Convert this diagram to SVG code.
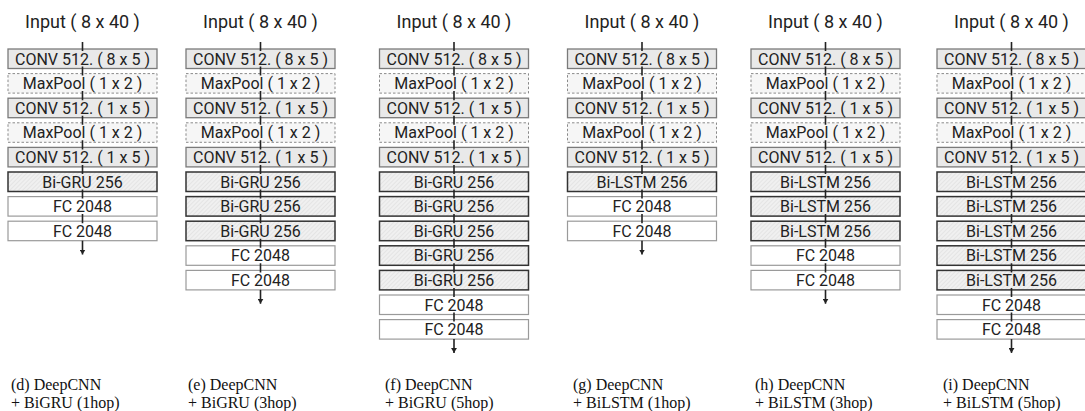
<svg xmlns="http://www.w3.org/2000/svg" width="1085" height="411" viewBox="0 0 1085 411">
<style>
.bg{fill:#ffffff}
.title{font-family:Roboto,"Noto Sans",sans-serif;font-size:18px;fill:#222;text-anchor:middle}
.t{font-family:Roboto,"Noto Sans",sans-serif;font-size:16px;fill:#222;text-anchor:middle}
.cap{font-family:"Liberation Serif","Times New Roman",serif;font-size:16px;fill:#111}
.conv{fill:#e9e9e9;stroke:#7a7a7a;stroke-width:1.3}
.pool{fill:#f6f6f6;stroke:#8a8a8a;stroke-width:1;stroke-dasharray:2.5 2}
.rnn{fill:url(#hatch);stroke:#333;stroke-width:1.5}
.fc{fill:#ffffff;stroke:#9a9a9a;stroke-width:1.2}
.con{fill:none;stroke:#222;stroke-width:1.6}
</style>
<defs>
<pattern id="hatch" width="3" height="3" patternUnits="userSpaceOnUse" patternTransform="rotate(45)">
<rect width="3" height="3" fill="#f0f0f0"/>
<line x1="0" y1="0" x2="0" y2="3" stroke="#d8d8d8" stroke-width="1"/>
</pattern>
<marker id="arr" markerUnits="userSpaceOnUse" markerWidth="6" markerHeight="6" refX="5" refY="3" orient="auto">
<path d="M0,0 L5,3 L0,6 z" fill="#222"/>
</marker>
</defs>
<rect class="bg" x="0" y="0" width="1085" height="411"/>

<!-- Column d -->
<g id="col-d">
<text class="title" x="82.5" y="28">Input ( 8 x 40 )</text>
<g id="d-conv1"><rect class="conv" x="8" y="49" width="149" height="19.5"/><text class="t" x="82.5" y="64.5">CONV 512. ( 8 x 5 )</text></g>
<g id="d-pool1"><rect class="pool" x="8" y="73.6" width="149" height="19.5"/><text class="t" x="82.5" y="89.1">MaxPool ( 1 x 2 )</text></g>
<g id="d-conv2"><rect class="conv" x="8" y="98.2" width="149" height="19.5"/><text class="t" x="82.5" y="113.7">CONV 512. ( 1 x 5 )</text></g>
<g id="d-pool2"><rect class="pool" x="8" y="122.8" width="149" height="19.5"/><text class="t" x="82.5" y="138.3">MaxPool ( 1 x 2 )</text></g>
<g id="d-conv3"><rect class="conv" x="8" y="147.4" width="149" height="19.5"/><text class="t" x="82.5" y="162.9">CONV 512. ( 1 x 5 )</text></g>
<g id="d-rnn1"><rect class="rnn" x="8" y="172" width="149" height="19.5"/><text class="t" x="82.5" y="187.5">Bi-GRU 256</text></g>
<g id="d-fc1"><rect class="fc" x="8" y="196.6" width="149" height="19.5"/><text class="t" x="82.5" y="212.1">FC 2048</text></g>
<g id="d-fc2"><rect class="fc" x="8" y="221.2" width="149" height="19.5"/><text class="t" x="82.5" y="236.7">FC 2048</text></g>
<text class="cap" x="11" y="390">(d) DeepCNN</text>
<text class="cap" x="11" y="408">+ BiGRU (1hop)</text>
</g>

<!-- Column e -->
<g id="col-e">
<text class="title" x="260.5" y="28">Input ( 8 x 40 )</text>
<g id="e-conv1"><rect class="conv" x="186" y="49" width="149" height="19.5"/><text class="t" x="260.5" y="64.5">CONV 512. ( 8 x 5 )</text></g>
<g id="e-pool1"><rect class="pool" x="186" y="73.6" width="149" height="19.5"/><text class="t" x="260.5" y="89.1">MaxPool ( 1 x 2 )</text></g>
<g id="e-conv2"><rect class="conv" x="186" y="98.2" width="149" height="19.5"/><text class="t" x="260.5" y="113.7">CONV 512. ( 1 x 5 )</text></g>
<g id="e-pool2"><rect class="pool" x="186" y="122.8" width="149" height="19.5"/><text class="t" x="260.5" y="138.3">MaxPool ( 1 x 2 )</text></g>
<g id="e-conv3"><rect class="conv" x="186" y="147.4" width="149" height="19.5"/><text class="t" x="260.5" y="162.9">CONV 512. ( 1 x 5 )</text></g>
<g id="e-rnn1"><rect class="rnn" x="186" y="172" width="149" height="19.5"/><text class="t" x="260.5" y="187.5">Bi-GRU 256</text></g>
<g id="e-rnn2"><rect class="rnn" x="186" y="196.6" width="149" height="19.5"/><text class="t" x="260.5" y="212.1">Bi-GRU 256</text></g>
<g id="e-rnn3"><rect class="rnn" x="186" y="221.2" width="149" height="19.5"/><text class="t" x="260.5" y="236.7">Bi-GRU 256</text></g>
<g id="e-fc1"><rect class="fc" x="186" y="245.8" width="149" height="19.5"/><text class="t" x="260.5" y="261.3">FC 2048</text></g>
<g id="e-fc2"><rect class="fc" x="186" y="270.4" width="149" height="19.5"/><text class="t" x="260.5" y="285.9">FC 2048</text></g>
<text class="cap" x="188" y="390">(e) DeepCNN</text>
<text class="cap" x="188" y="408">+ BiGRU (3hop)</text>
</g>

<!-- Column f -->
<g id="col-f">
<text class="title" x="454" y="28">Input ( 8 x 40 )</text>
<g id="f-conv1"><rect class="conv" x="379.5" y="49" width="149" height="19.5"/><text class="t" x="454" y="64.5">CONV 512. ( 8 x 5 )</text></g>
<g id="f-pool1"><rect class="pool" x="379.5" y="73.6" width="149" height="19.5"/><text class="t" x="454" y="89.1">MaxPool ( 1 x 2 )</text></g>
<g id="f-conv2"><rect class="conv" x="379.5" y="98.2" width="149" height="19.5"/><text class="t" x="454" y="113.7">CONV 512. ( 1 x 5 )</text></g>
<g id="f-pool2"><rect class="pool" x="379.5" y="122.8" width="149" height="19.5"/><text class="t" x="454" y="138.3">MaxPool ( 1 x 2 )</text></g>
<g id="f-conv3"><rect class="conv" x="379.5" y="147.4" width="149" height="19.5"/><text class="t" x="454" y="162.9">CONV 512. ( 1 x 5 )</text></g>
<g id="f-rnn1"><rect class="rnn" x="379.5" y="172" width="149" height="19.5"/><text class="t" x="454" y="187.5">Bi-GRU 256</text></g>
<g id="f-rnn2"><rect class="rnn" x="379.5" y="196.6" width="149" height="19.5"/><text class="t" x="454" y="212.1">Bi-GRU 256</text></g>
<g id="f-rnn3"><rect class="rnn" x="379.5" y="221.2" width="149" height="19.5"/><text class="t" x="454" y="236.7">Bi-GRU 256</text></g>
<g id="f-rnn4"><rect class="rnn" x="379.5" y="245.8" width="149" height="19.5"/><text class="t" x="454" y="261.3">Bi-GRU 256</text></g>
<g id="f-rnn5"><rect class="rnn" x="379.5" y="270.4" width="149" height="19.5"/><text class="t" x="454" y="285.9">Bi-GRU 256</text></g>
<g id="f-fc1"><rect class="fc" x="379.5" y="295" width="149" height="19.5"/><text class="t" x="454" y="310.5">FC 2048</text></g>
<g id="f-fc2"><rect class="fc" x="379.5" y="319.6" width="149" height="19.5"/><text class="t" x="454" y="335.1">FC 2048</text></g>
<text class="cap" x="385" y="390">(f) DeepCNN</text>
<text class="cap" x="385" y="408">+ BiGRU (5hop)</text>
</g>

<!-- Column g -->
<g id="col-g">
<text class="title" x="642" y="28">Input ( 8 x 40 )</text>
<g id="g-conv1"><rect class="conv" x="567.5" y="49" width="149" height="19.5"/><text class="t" x="642" y="64.5">CONV 512. ( 8 x 5 )</text></g>
<g id="g-pool1"><rect class="pool" x="567.5" y="73.6" width="149" height="19.5"/><text class="t" x="642" y="89.1">MaxPool ( 1 x 2 )</text></g>
<g id="g-conv2"><rect class="conv" x="567.5" y="98.2" width="149" height="19.5"/><text class="t" x="642" y="113.7">CONV 512. ( 1 x 5 )</text></g>
<g id="g-pool2"><rect class="pool" x="567.5" y="122.8" width="149" height="19.5"/><text class="t" x="642" y="138.3">MaxPool ( 1 x 2 )</text></g>
<g id="g-conv3"><rect class="conv" x="567.5" y="147.4" width="149" height="19.5"/><text class="t" x="642" y="162.9">CONV 512. ( 1 x 5 )</text></g>
<g id="g-rnn1"><rect class="rnn" x="567.5" y="172" width="149" height="19.5"/><text class="t" x="642" y="187.5">Bi-LSTM 256</text></g>
<g id="g-fc1"><rect class="fc" x="567.5" y="196.6" width="149" height="19.5"/><text class="t" x="642" y="212.1">FC 2048</text></g>
<g id="g-fc2"><rect class="fc" x="567.5" y="221.2" width="149" height="19.5"/><text class="t" x="642" y="236.7">FC 2048</text></g>
<text class="cap" x="573" y="390">(g) DeepCNN</text>
<text class="cap" x="573" y="408">+ BiLSTM (1hop)</text>
</g>

<!-- Column h -->
<g id="col-h">
<text class="title" x="825.5" y="28">Input ( 8 x 40 )</text>
<g id="h-conv1"><rect class="conv" x="751" y="49" width="149" height="19.5"/><text class="t" x="825.5" y="64.5">CONV 512. ( 8 x 5 )</text></g>
<g id="h-pool1"><rect class="pool" x="751" y="73.6" width="149" height="19.5"/><text class="t" x="825.5" y="89.1">MaxPool ( 1 x 2 )</text></g>
<g id="h-conv2"><rect class="conv" x="751" y="98.2" width="149" height="19.5"/><text class="t" x="825.5" y="113.7">CONV 512. ( 1 x 5 )</text></g>
<g id="h-pool2"><rect class="pool" x="751" y="122.8" width="149" height="19.5"/><text class="t" x="825.5" y="138.3">MaxPool ( 1 x 2 )</text></g>
<g id="h-conv3"><rect class="conv" x="751" y="147.4" width="149" height="19.5"/><text class="t" x="825.5" y="162.9">CONV 512. ( 1 x 5 )</text></g>
<g id="h-rnn1"><rect class="rnn" x="751" y="172" width="149" height="19.5"/><text class="t" x="825.5" y="187.5">Bi-LSTM 256</text></g>
<g id="h-rnn2"><rect class="rnn" x="751" y="196.6" width="149" height="19.5"/><text class="t" x="825.5" y="212.1">Bi-LSTM 256</text></g>
<g id="h-rnn3"><rect class="rnn" x="751" y="221.2" width="149" height="19.5"/><text class="t" x="825.5" y="236.7">Bi-LSTM 256</text></g>
<g id="h-fc1"><rect class="fc" x="751" y="245.8" width="149" height="19.5"/><text class="t" x="825.5" y="261.3">FC 2048</text></g>
<g id="h-fc2"><rect class="fc" x="751" y="270.4" width="149" height="19.5"/><text class="t" x="825.5" y="285.9">FC 2048</text></g>
<text class="cap" x="755" y="390">(h) DeepCNN</text>
<text class="cap" x="755" y="408">+ BiLSTM (3hop)</text>
</g>

<!-- Column i -->
<g id="col-i">
<text class="title" x="1011.5" y="28">Input ( 8 x 40 )</text>
<g id="i-conv1"><rect class="conv" x="937" y="49" width="149" height="19.5"/><text class="t" x="1011.5" y="64.5">CONV 512. ( 8 x 5 )</text></g>
<g id="i-pool1"><rect class="pool" x="937" y="73.6" width="149" height="19.5"/><text class="t" x="1011.5" y="89.1">MaxPool ( 1 x 2 )</text></g>
<g id="i-conv2"><rect class="conv" x="937" y="98.2" width="149" height="19.5"/><text class="t" x="1011.5" y="113.7">CONV 512. ( 1 x 5 )</text></g>
<g id="i-pool2"><rect class="pool" x="937" y="122.8" width="149" height="19.5"/><text class="t" x="1011.5" y="138.3">MaxPool ( 1 x 2 )</text></g>
<g id="i-conv3"><rect class="conv" x="937" y="147.4" width="149" height="19.5"/><text class="t" x="1011.5" y="162.9">CONV 512. ( 1 x 5 )</text></g>
<g id="i-rnn1"><rect class="rnn" x="937" y="172" width="149" height="19.5"/><text class="t" x="1011.5" y="187.5">Bi-LSTM 256</text></g>
<g id="i-rnn2"><rect class="rnn" x="937" y="196.6" width="149" height="19.5"/><text class="t" x="1011.5" y="212.1">Bi-LSTM 256</text></g>
<g id="i-rnn3"><rect class="rnn" x="937" y="221.2" width="149" height="19.5"/><text class="t" x="1011.5" y="236.7">Bi-LSTM 256</text></g>
<g id="i-rnn4"><rect class="rnn" x="937" y="245.8" width="149" height="19.5"/><text class="t" x="1011.5" y="261.3">Bi-LSTM 256</text></g>
<g id="i-rnn5"><rect class="rnn" x="937" y="270.4" width="149" height="19.5"/><text class="t" x="1011.5" y="285.9">Bi-LSTM 256</text></g>
<g id="i-fc1"><rect class="fc" x="937" y="295" width="149" height="19.5"/><text class="t" x="1011.5" y="310.5">FC 2048</text></g>
<g id="i-fc2"><rect class="fc" x="937" y="319.6" width="149" height="19.5"/><text class="t" x="1011.5" y="335.1">FC 2048</text></g>
<text class="cap" x="943" y="390">(i) DeepCNN</text>
<text class="cap" x="943" y="408">+ BiLSTM (5hop)</text>
</g>

<!-- Connectors -->
<g id="connectors">
<path class="con" d="M82.5,42 V51 M82.5,66.5 V75.6 M82.5,91.1 V100.2 M82.5,115.7 V124.8 M82.5,140.3 V149.4 M82.5,164.9 V174 M82.5,189.5 V198.6 M82.5,214.1 V223.2"/>
<path class="con" d="M82.5,240.7 V254.5" marker-end="url(#arr)"/>
<path class="con" d="M260.5,42 V51 M260.5,66.5 V75.6 M260.5,91.1 V100.2 M260.5,115.7 V124.8 M260.5,140.3 V149.4 M260.5,164.9 V174 M260.5,189.5 V198.6 M260.5,214.1 V223.2 M260.5,238.7 V247.8 M260.5,263.3 V272.4"/>
<path class="con" d="M260.5,289.9 V303.7" marker-end="url(#arr)"/>
<path class="con" d="M454,42 V51 M454,66.5 V75.6 M454,91.1 V100.2 M454,115.7 V124.8 M454,140.3 V149.4 M454,164.9 V174 M454,189.5 V198.6 M454,214.1 V223.2 M454,238.7 V247.8 M454,263.3 V272.4 M454,287.9 V297 M454,312.5 V321.6"/>
<path class="con" d="M454,339.1 V352.9" marker-end="url(#arr)"/>
<path class="con" d="M642,42 V51 M642,66.5 V75.6 M642,91.1 V100.2 M642,115.7 V124.8 M642,140.3 V149.4 M642,164.9 V174 M642,189.5 V198.6 M642,214.1 V223.2"/>
<path class="con" d="M642,240.7 V254.5" marker-end="url(#arr)"/>
<path class="con" d="M825.5,42 V51 M825.5,66.5 V75.6 M825.5,91.1 V100.2 M825.5,115.7 V124.8 M825.5,140.3 V149.4 M825.5,164.9 V174 M825.5,189.5 V198.6 M825.5,214.1 V223.2 M825.5,238.7 V247.8 M825.5,263.3 V272.4"/>
<path class="con" d="M825.5,289.9 V303.7" marker-end="url(#arr)"/>
<path class="con" d="M1011.5,42 V51 M1011.5,66.5 V75.6 M1011.5,91.1 V100.2 M1011.5,115.7 V124.8 M1011.5,140.3 V149.4 M1011.5,164.9 V174 M1011.5,189.5 V198.6 M1011.5,214.1 V223.2 M1011.5,238.7 V247.8 M1011.5,263.3 V272.4 M1011.5,287.9 V297 M1011.5,312.5 V321.6"/>
<path class="con" d="M1011.5,339.1 V352.9" marker-end="url(#arr)"/>
</g>
</svg>
